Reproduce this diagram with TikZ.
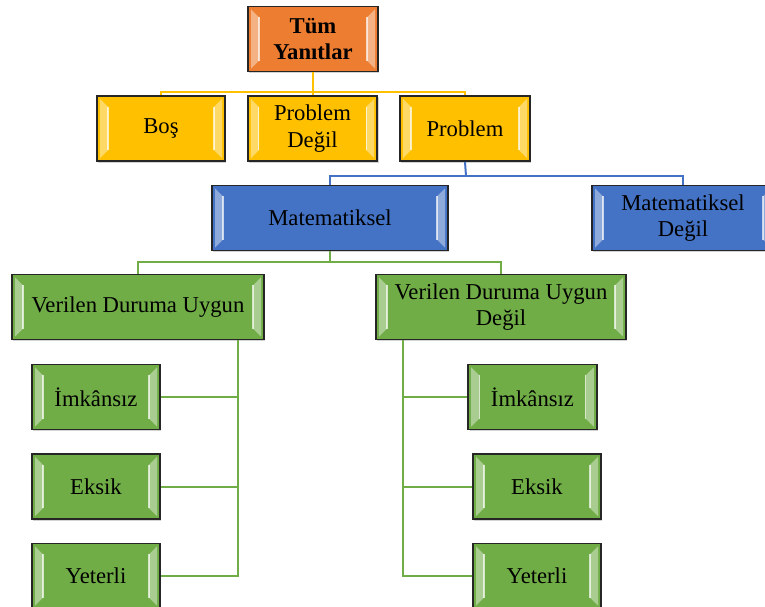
\documentclass[tikz,border=0pt]{standalone}
\usepackage{fontspec}
\setmainfont{Liberation Serif}
\usepackage{tikz}
\usetikzlibrary{calc,shadows}
\definecolor{myorange}{HTML}{ED7D31}
\definecolor{myyellow}{HTML}{FFC000}
\definecolor{myblue}{HTML}{4472C4}
\definecolor{mygreen}{HTML}{70AD47}

\begin{document}
\begin{tikzpicture}[x=0.75pt,y=-0.75pt,
  box/.style={draw=black!85,line width=1.2pt,fill=#1,minimum height=49pt,
    inner sep=2pt,align=center,font=\fontsize{17}{20}\selectfont,
    drop shadow={shadow xshift=1pt,shadow yshift=-1pt,opacity=0.35},
    path picture={
      \fill[white,opacity=0.4] ($(path picture bounding box.north west)+(3,3)$) -- ++(8,8)
        -- ($(path picture bounding box.south west)+(11,-11)$) -- ++(-8,8) -- cycle;
      \fill[white,opacity=0.4] ($(path picture bounding box.north east)+(-3,3)$) -- ++(-8,8)
        -- ($(path picture bounding box.south east)+(-11,-11)$) -- ++(8,8) -- cycle;
      \draw[white,opacity=0.7,line width=0.8pt] ($(path picture bounding box.north west)+(11,11)$)
        -- ($(path picture bounding box.south west)+(11,-11)$);
      \draw[white,opacity=0.7,line width=0.8pt] ($(path picture bounding box.north east)+(-11,11)$)
        -- ($(path picture bounding box.south east)+(-11,-11)$);
    }},
  ylink/.style={draw=myyellow,line width=1.5pt},
  blink/.style={draw=myblue,line width=1.5pt},
  glink/.style={draw=mygreen,line width=1.5pt}]

\useasboundingbox (0,0) rectangle (765,607);
\clip (0,0) rectangle (765,607);

% top
\node[box=myorange,minimum width=97.5pt,font=\fontsize{17}{20}\selectfont\bfseries] (tum) at (313,39) {Tüm\\Yanıtlar};

% second row
\node[box=myyellow,minimum width=96pt] (bos) at (161,128.5) {Boş};
\node[box=myyellow,minimum width=97pt] (probdegil) at (312.5,128.5) {Problem\\Değil};
\node[box=myyellow,minimum width=97.5pt] (problem) at (465,128.5) {Problem};

% third row
\node[box=myblue,minimum width=177pt] (mat) at (330,218) {Matematiksel};
\node[box=myblue,minimum width=136.5pt] (matdegil) at (683,218) {Matematiksel\\Değil};

% fourth row
\node[box=mygreen,minimum width=189pt] (uygun) at (138,307) {Verilen Duruma Uygun};
\node[box=mygreen,minimum width=187.5pt] (uygundegil) at (501,307) {Verilen Duruma Uygun\\Değil};

% leaves
\foreach \t [count=\c] in {İmkânsız,Eksik,Yeterli}{
  \node[box=mygreen,minimum width=96pt] (l\c) at (96,397+\c*89.5-89.5) {\t};
}
\node[box=mygreen,minimum width=96.5pt] (r1) at (532.5,397) {İmkânsız};
\node[box=mygreen,minimum width=96pt] (r2) at (537,486.5) {Eksik};
\node[box=mygreen,minimum width=96pt] (r3) at (537,576) {Yeterli};

% connectors
\coordinate (ybus) at (313,92);
\coordinate (bbus) at (466,176);
\coordinate (gbus) at (330,262);
\draw[ylink] (tum.south) -- (ybus);
\draw[ylink] (ybus) -| (bos.north);
\draw[ylink] (ybus) -| (probdegil.north);
\draw[ylink] (ybus) -| (problem.north);

\draw[blink] (problem.south) -- (bbus);
\draw[blink] (bbus) -| (mat.north);
\draw[blink] (bbus) -| (matdegil.north);

\draw[glink] (mat.south) -- (gbus);
\draw[glink] (gbus) -| (uygun.north);
\draw[glink] (gbus) -| (uygundegil.north);

\coordinate (ltrunk) at ($(uygun.south)+(100,0)$);
\coordinate (rtrunk) at ($(uygundegil.south)+(-98,0)$);
\foreach \c in {1,2,3}{
  \draw[glink] (ltrunk) |- (l\c.east);
  \draw[glink] (rtrunk) |- (r\c.west);
}
\end{tikzpicture}
\end{document}
